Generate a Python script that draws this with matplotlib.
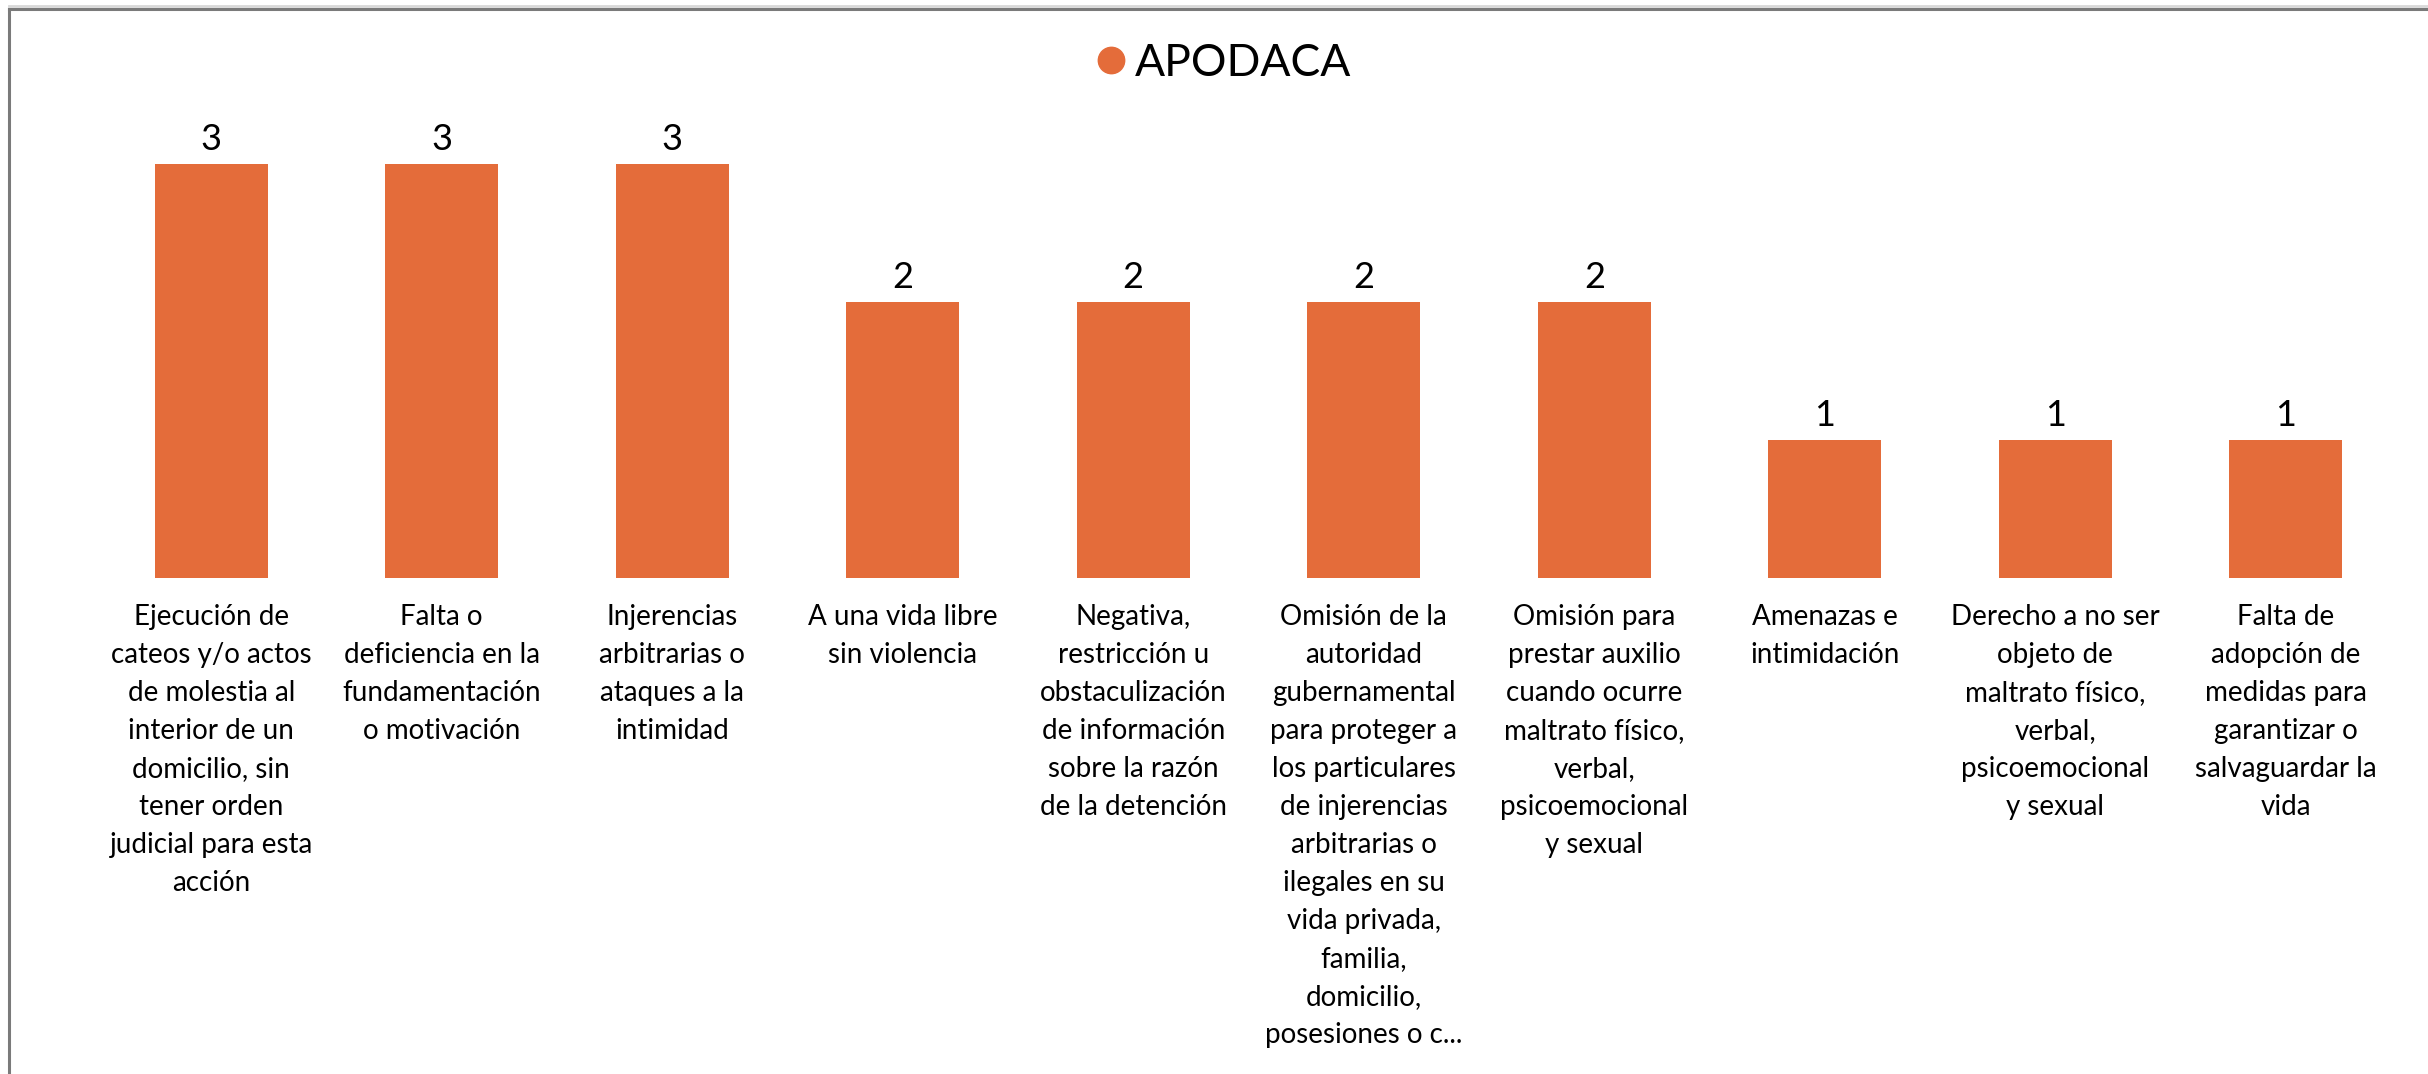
import matplotlib
matplotlib.use("Agg")
import matplotlib.pyplot as plt
from matplotlib.lines import Line2D

categories = [
    "Ejecución de\ncateos y/o actos\nde molestia al\ninterior de un\ndomicilio, sin\ntener orden\njudicial para esta\nacción",
    "Falta o\ndeficiencia en la\nfundamentación\no motivación",
    "Injerencias\narbitrarias o\nataques a la\nintimidad",
    "A una vida libre\nsin violencia",
    "Negativa,\nrestricción u\nobstaculización\nde información\nsobre la razón\nde la detención",
    "Omisión de la\nautoridad\ngubernamental\npara proteger a\nlos particulares\nde injerencias\narbitrarias o\nilegales en su\nvida privada,\nfamilia,\ndomicilio,\nposesiones o c...",
    "Omisión para\nprestar auxilio\ncuando ocurre\nmaltrato físico,\nverbal,\npsicoemocional\ny sexual",
    "Amenazas e\nintimidación",
    "Derecho a no ser\nobjeto de\nmaltrato físico,\nverbal,\npsicoemocional\ny sexual",
    "Falta de\nadopción de\nmedidas para\ngarantizar o\nsalvaguardar la\nvida",
]
values = [3, 3, 3, 2, 2, 2, 2, 1, 1, 1]
series_name = "APODACA"

COLOR = "#E46C3A"
plt.rcParams['font.family'] = ['Lato', 'DejaVu Sans']

fig = plt.figure(figsize=(24.28, 10.74), dpi=100)
W, H = 2428, 1074
left = 96 / W
width = 2305 / W
bottom = 1 - 578 / H
height = 414 / H
ax = fig.add_axes([left, bottom, width, height])
x = list(range(len(values)))
ax.bar(x, values, width=0.49, color=COLOR)
ax.set_xlim(-0.5, len(values) - 0.5)
ax.set_ylim(0, 3)
for s in ax.spines.values():
    s.set_visible(False)
ax.set_yticks([])
ax.set_xticks(x)
ax.set_xticklabels(categories, fontsize=20, linespacing=1.57, color="#000000", ha="center", va="top")
ax.tick_params(axis="x", length=0, pad=19)
for xi, v in zip(x, values):
    ax.annotate(str(v), (xi, v), xytext=(0, 6), textcoords="offset points",
                ha="center", va="bottom", fontsize=26, color="#000000", annotation_clip=False)

handle = Line2D([], [], marker='o', linestyle='none', markersize=19, color=COLOR)
fig.legend([handle], [series_name], loc="center", bbox_to_anchor=(0.5025, 0.941),
           frameon=False, fontsize=32, handletextpad=0.05, handlelength=1.0,
           borderaxespad=0)

fig.add_artist(Line2D([9 / W, 1.0], [1 - 9 / H, 1 - 9 / H], transform=fig.transFigure,
                      color="#7a7a7a", linewidth=2.2))
fig.add_artist(Line2D([9 / W, 9 / W], [0, 1 - 9 / H], transform=fig.transFigure,
                      color="#7a7a7a", linewidth=2.2))
fig.add_artist(Line2D([9 / W, 1.0], [1 - 6 / H, 1 - 6 / H], transform=fig.transFigure,
                      color="#d8d8d8", linewidth=2))

fig.savefig("out.png", dpi=100)
